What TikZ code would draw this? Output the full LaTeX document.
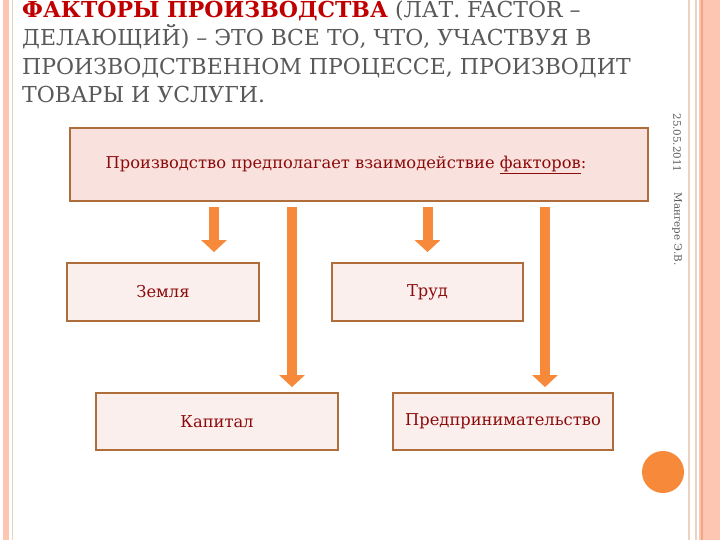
\documentclass[tikz,border=0pt]{standalone}
\usepackage{fontspec}
\setmainfont{DejaVu Serif}
\usetikzlibrary{arrows.meta,positioning,backgrounds}

\definecolor{salmon}{HTML}{FCC6B3}
\definecolor{salmondark}{HTML}{F2A585}
\definecolor{stripetan}{HTML}{EBD3C2}
\definecolor{boxedge}{HTML}{B06D3C}
\definecolor{leadfill}{HTML}{F9E1DD}
\definecolor{boxfill}{HTML}{FBEFEE}
\definecolor{arroworange}{HTML}{F7893A}
\definecolor{textred}{HTML}{8B0A0A}
\definecolor{titlered}{HTML}{C00000}
\definecolor{titlegray}{HTML}{595959}

\begin{document}
\begin{tikzpicture}[
    x=1pt, y=-1pt,
    % Define styles for the blocks
    leadbox/.style={rectangle, draw=boxedge, line width=2pt, fill=leadfill, minimum width=578pt, minimum height=73pt, inner sep=0pt},
    factor/.style={rectangle, draw=boxedge, line width=1.8pt, fill=boxfill, text=textred, font=\fontsize{16.3}{18}\selectfont, inner sep=0pt},
    fatarrow/.style={draw=arroworange, line width=10pt, -{Triangle[width=25pt, length=12pt]}},
    sidenote/.style={text=titlegray, font=\fontsize{10.3}{12}\selectfont, rotate=-90}
]
\useasboundingbox (0,0) rectangle (720,540);

% ==========================================
% Slide frame
% ==========================================
\fill[salmon] (3,0) rectangle (9,540);
\draw[stripetan, line width=1pt] (12,0) -- (12,540);
\draw[stripetan, line width=1.2pt] (689,0) -- (689,540);
\draw[stripetan, line width=1.2pt] (696,0) -- (696,540);
\fill[salmon] (699,0) rectangle (720,540);
\draw[salmondark, line width=1.5pt] (702,0) -- (702,540);

% ==========================================
% Title
% ==========================================
\node[anchor=base west, align=left, text=titlegray, font=\fontsize{22}{28.5}\selectfont, inner sep=0pt] (title) at (22,103)
    {{\color{titlered}\bfseries ФАКТОРЫ ПРОИЗВОДСТВА} (ЛАТ. FACTOR –\\
     ДЕЛАЮЩИЙ) – ЭТО ВСЕ ТО, ЧТО, УЧАСТВУЯ В\\
     ПРОИЗВОДСТВЕННОМ ПРОЦЕССЕ, ПРОИЗВОДИТ\\
     ТОВАРЫ И УСЛУГИ.};

\node[sidenote] (date) at (677,143) {25.05.2011};
\node[sidenote] (author) at (677,229) {Мангере Э.В.};

% ==========================================
% Lead box and factors
% ==========================================
\node[leadbox] (lead) at (359,165) {};
\node[text=textred, font=\fontsize{16.3}{18}\selectfont] (leadtext) at (346,165) {Производство предполагает взаимодействие \underline{факторов}:};

\node[factor, minimum width=192pt, minimum height=58pt] (land) at (163,292) {Земля};
\node[factor, minimum width=191pt, minimum height=58pt] (labour) at (427.5,292) {Труд};
\node[factor, minimum width=242pt, minimum height=57pt] (capital) at (217,421.5) {Капитал};
\node[factor, minimum width=220pt, minimum height=57pt] (enterprise) at (503,421.5) {Предпринимательство};

\fill[arroworange] (663,472) circle (21);

% Arrows from the lead box down to each factor
\draw[fatarrow, shorten <=5pt, shorten >=10pt] ([xshift=51pt]land.north |- lead.south) -- ([xshift=51pt]land.north);
\draw[fatarrow, shorten <=5pt, shorten >=10pt] (labour.north |- lead.south) -- (labour.north);
\draw[fatarrow, shorten <=5pt, shorten >=5pt] ([xshift=75pt]capital.north |- lead.south) -- ([xshift=75pt]capital.north);
\draw[fatarrow, shorten <=5pt, shorten >=5pt] ([xshift=42pt]enterprise.north |- lead.south) -- ([xshift=42pt]enterprise.north);

\end{tikzpicture}
\end{document}
